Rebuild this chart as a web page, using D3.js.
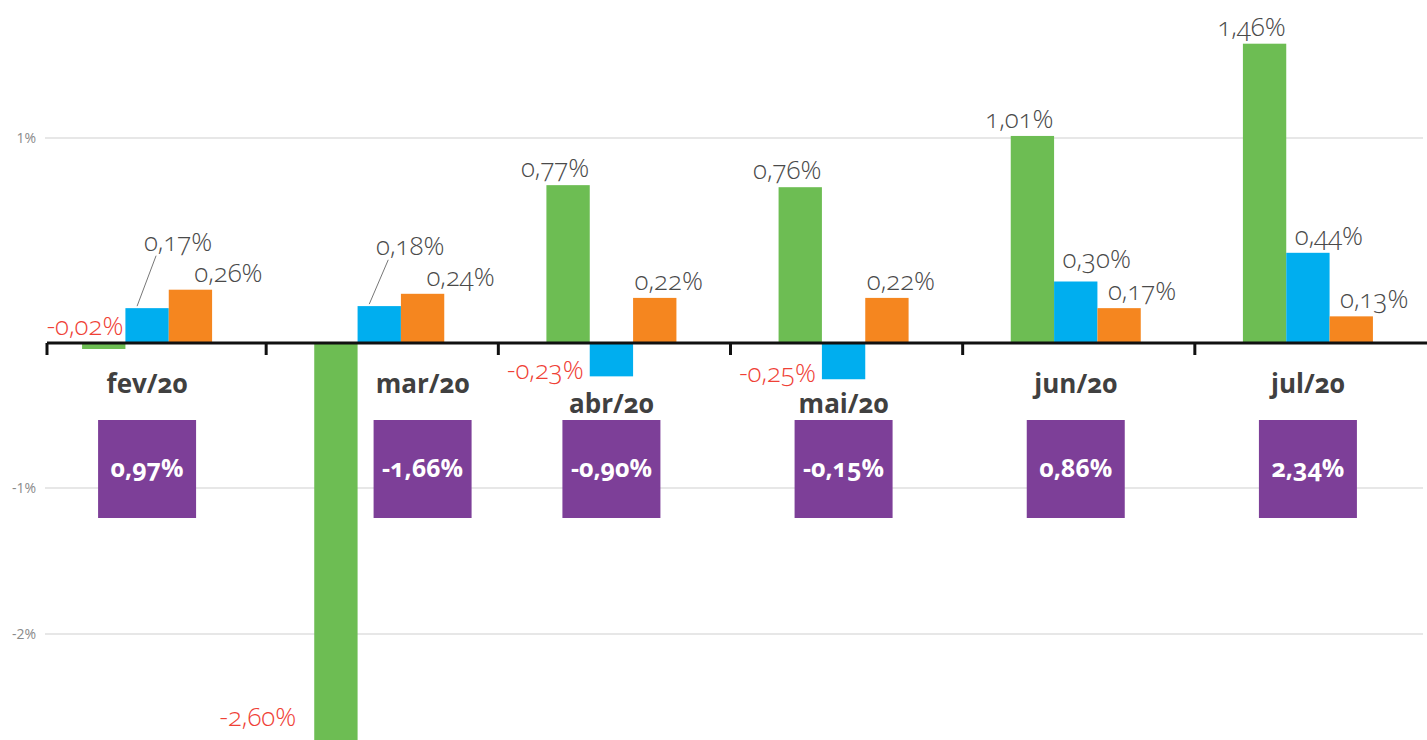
<!DOCTYPE html>
<html><head><meta charset="utf-8">
<script src="https://cdn.jsdelivr.net/npm/d3@7"></script>
<style>
html,body{margin:0;padding:0;background:#fff;}
svg{display:block;font-family:"Open Sans",Lato,sans-serif;font-variant-numeric:oldstyle-nums;}
</style></head>
<body><svg id="c" width="1427" height="740"></svg>
<script>
const categories = ["fev/20","mar/20","abr/20","mai/20","jun/20","jul/20"];
const seriesNames = ["green","blue","orange"];
const greenValues = [-0.02,-2.60,0.77,0.76,1.01,1.46];
const blueValues = [0.17,0.18,-0.23,-0.25,0.30,0.44];
const orangeValues = [0.26,0.24,0.22,0.22,0.17,0.13];
const boxValues = [0.97,-1.66,-0.90,-0.15,0.86,2.34];
const gridTicks = [1,-1,-2];

const W = 1427, H = 740;
const colors = {green:"#6dbd53", blue:"#00aeef", orange:"#f5861f"};
const purple = "#7d3f98", red = "#ef4136", textGray = "#4a4a4a";
const fmt = v => d3.format(".2f")(v).replace(".", ",").replace("−","-") + "%";

const svg = d3.select("#c");
const x0 = d3.scaleBand().domain(categories).range([31, 1424]).paddingInner(0.44).paddingOuter(0.22);
const x1 = d3.scaleBand().domain(seriesNames).range([0, x0.bandwidth()]);
const y = d3.scaleLinear().domain([-2.6, -2, -1, 0, 1]).range([790, 634, 488, 343, 138]);
const axisLeft = 47;

// gridlines
const grid = svg.append("g");
grid.selectAll("line").data(gridTicks).join("line")
  .attr("x1", 45).attr("x2", 1423)
  .attr("y1", d => y(d)).attr("y2", d => y(d))
  .attr("stroke", "#cfcfcf").attr("stroke-width", 1.2);
grid.selectAll("text").data(gridTicks).join("text")
  .attr("x", 36).attr("y", d => y(d) + 5)
  .attr("text-anchor", "end").attr("font-size", 14).attr("fill", "#8a8a8a")
  .style("font-variant-numeric","lining-nums")
  .text(d => d + "%");

const data = categories.map((c, i) => ({
  cat: c, i,
  vals: {green: greenValues[i], blue: blueValues[i], orange: orangeValues[i]},
  box: boxValues[i]
}));

// bars
const groups = svg.append("g").selectAll("g").data(data).join("g")
  .attr("transform", d => `translate(${x0(d.cat)},0)`);
groups.selectAll("rect").data(d => seriesNames.map(s => ({s, v: d.vals[s]}))).join("rect")
  .attr("x", d => x1(d.s)).attr("width", x1.bandwidth())
  .attr("y", d => Math.min(y(d.v), y(0)))
  .attr("height", d => Math.max(Math.abs(y(d.v) - y(0)), 6))
  .attr("fill", d => colors[d.s]);

// axis
svg.append("line").attr("x1", axisLeft).attr("x2", W).attr("y1", y(0)).attr("y2", y(0))
  .attr("stroke", "#111").attr("stroke-width", 3);
svg.append("g").selectAll("line").data(categories).join("line")
  .attr("x1", d => Math.max(axisLeft, x0(d) - x0.step()*0.22 + 3)).attr("x2", d => Math.max(axisLeft, x0(d) - x0.step()*0.22 + 3))
  .attr("y1", y(0)).attr("y2", y(0) + 12)
  .attr("stroke", "#111").attr("stroke-width", 3);

// value labels
const bw = x1.bandwidth();
const lab = svg.append("g").attr("font-size", 26).attr("font-weight", 300);
data.forEach(d => {
  const gx = x0(d.cat);
  const cx = s => gx + x1(s) + bw / 2;
  const v = d.vals;
  const leader = v.blue > 0 && v.blue < v.orange;
  // green
  if (v.green >= 0) {
    lab.append("text").attr("x", cx("green") - 13).attr("y", y(v.green) - 8)
      .attr("text-anchor", "middle").attr("fill", textGray).text(fmt(v.green));
  } else {
    const small = (y(v.green) - y(0)) < 20;
    lab.append("text").attr("x", small ? gx + bw - 2 : gx - 18)
      .attr("y", small ? y(0) - 8 : Math.min(y(v.green), H) - 14)
      .attr("text-anchor", "end").attr("fill", red).text(fmt(v.green));
  }
  // orange
  let oBase = y(v.orange) - 8;
  const oDx = leader ? 38 : (v.blue < 0 ? 14 : 23);
  lab.append("text").attr("x", cx("orange") + oDx).attr("y", oBase)
    .attr("text-anchor", "middle").attr("fill", textGray).text(fmt(v.orange));
  // blue
  if (v.blue < 0) {
    lab.append("text").attr("x", gx + bw - 6).attr("y", y(v.blue) + 3)
      .attr("text-anchor", "end").attr("fill", red).text(fmt(v.blue));
  } else if (leader) {
    const bBase = oBase - 31;
    const tx = cx("blue") + 31;
    lab.append("text").attr("x", tx).attr("y", bBase)
      .attr("text-anchor", "middle").attr("fill", textGray).text(fmt(v.blue));
    lab.append("line").attr("x1", cx("blue") - 10).attr("y1", y(v.blue) - 2)
      .attr("x2", tx - 22).attr("y2", bBase + 5)
      .attr("stroke", "#777").attr("stroke-width", 1);
  } else {
    let bBase = y(v.blue) - 8;
    if (bBase > oBase - 32) bBase = oBase - 32;
    lab.append("text").attr("x", cx("blue") + 21).attr("y", bBase)
      .attr("text-anchor", "middle").attr("fill", textGray).text(fmt(v.blue));
  }
});

// category labels + purple boxes
const boxW = 98, boxTop = 420, boxH = 98;
data.forEach(d => {
  const v = d.vals;
  let cx = x0(d.cat) + x0.bandwidth() / 2;
  if (y(v.green) > boxTop + boxH) cx += bw;
  const low = y(Math.min(v.blue, v.orange)) > y(0) + 20;
  svg.append("text").attr("x", cx).attr("y", low ? 413 : 393)
    .attr("text-anchor", "middle").attr("font-size", 26).attr("font-weight", 700)
    .attr("fill", "#404040").text(d.cat);
  svg.append("rect").attr("x", cx - boxW / 2).attr("y", boxTop).attr("width", boxW).attr("height", boxH)
    .attr("fill", purple);
  svg.append("text").attr("x", cx).attr("y", boxTop + 57)
    .attr("text-anchor", "middle").attr("font-size", 25).attr("font-weight", 700)
    .attr("fill", "#fff").text(fmt(d.box));
});
</script></body></html>
